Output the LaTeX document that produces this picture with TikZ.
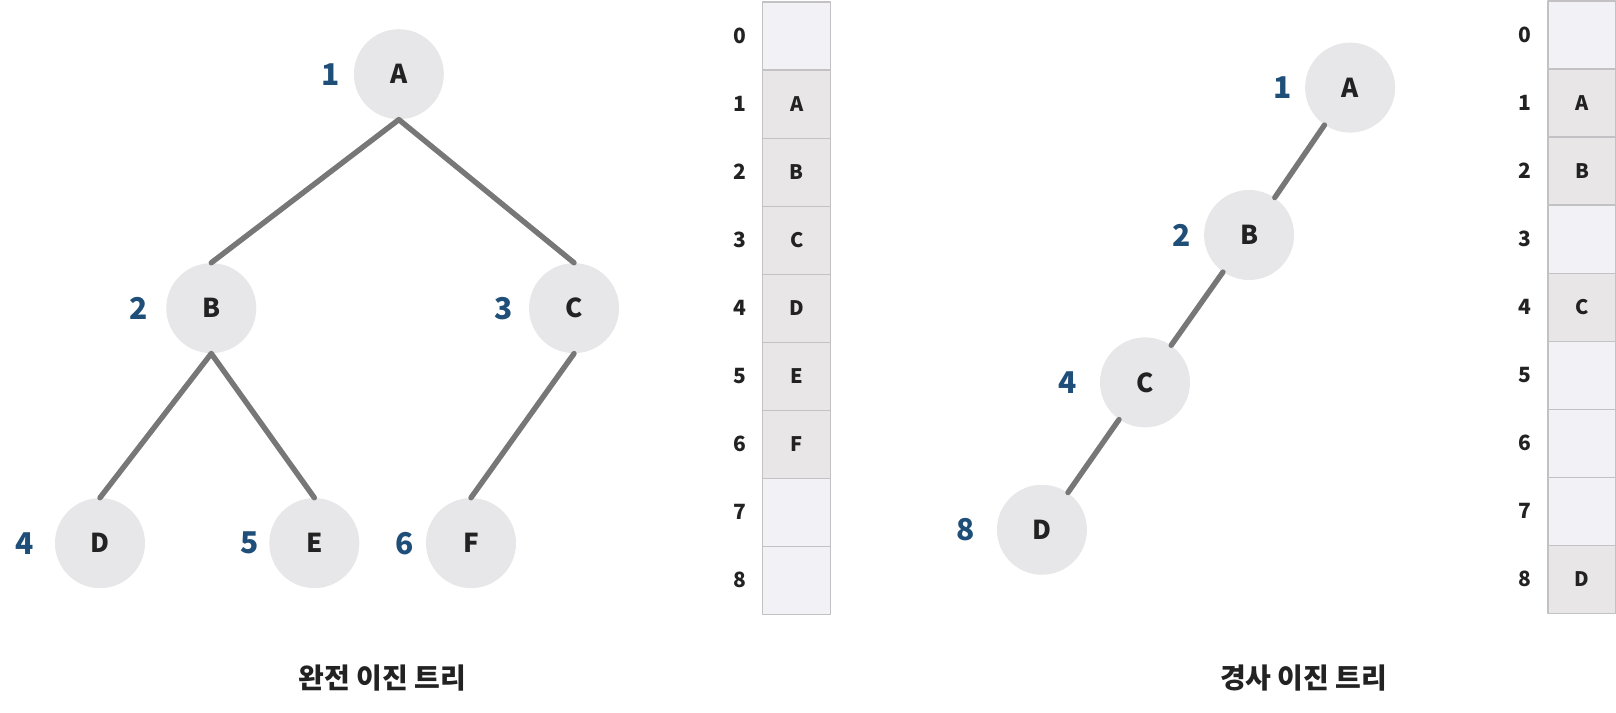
\documentclass[tikz,border=0pt]{standalone}
\usepackage{fontspec}
\setmainfont{Noto Sans CJK KR}
\definecolor{vtx}{HTML}{E7E6E8}
\definecolor{edge}{HTML}{777777}
\definecolor{idx}{HTML}{1F4E79}
\definecolor{ink}{HTML}{222222}
\definecolor{cellE}{HTML}{F2F1F6}
\definecolor{cellF}{HTML}{E8E6E6}
\definecolor{cellline}{HTML}{C3C1C4}
\begin{document}
\begin{tikzpicture}[x=0.5153pt,y=-0.5153pt, line join=round, line cap=round,
    vertex/.style={circle, fill=vtx, minimum size=45pt, inner sep=0pt, text=ink, font=\bfseries\fontsize{13}{14}\selectfont},
    num/.style={text=idx, font=\bfseries\fontsize{15}{16}\selectfont},
    link/.style={draw=edge, line width=2.7pt},
    cell/.style={draw=cellline, line width=0.6pt, minimum width=34pt, minimum height=34pt, inner sep=0pt, text=ink, font=\bfseries\fontsize{10}{11}\selectfont},
    slotnum/.style={text=ink, font=\bfseries\fontsize{10.5}{11}\selectfont},
    treetitle/.style={text=ink, font=\bfseries\fontsize{14}{16}\selectfont}]
\useasboundingbox (0,0) rectangle (1568,691);
% complete binary tree
\node[vertex] (A) at (387,72) {A};
\node[vertex] (B) at (205,299) {B};
\node[vertex] (C) at (557,299) {C};
\node[vertex] (D) at (97,527) {D};
\node[vertex] (E) at (305,527) {E};
\node[vertex] (F) at (457,527) {F};
\node[num] (nA) at (321,72) {1};
\node[num] (nB) at (135,299) {2};
\node[num] (nC) at (489,299) {3};
\node[num] (nD) at (24,527) {4};
\node[num] (nE) at (242,527) {5};
\node[num] (nF) at (393,527) {6};
\draw[link] (A.south)--(B.north) (A.south)--(C.north);
\draw[link] (B.south)--(D.north) (B.south)--(E.north) (C.south)--(F.north);
% array of complete tree
\foreach \i/\t/\f in {0/{}/cellE,1/A/cellF,2/B/cellF,3/C/cellF,4/D/cellF,5/E/cellF,6/F/cellF,7/{}/cellE,8/{}/cellE}{
  \node[cell, fill=\f] (L\i) at (773,{35+66*\i}) {\t};
  \node[slotnum] (Li\i) at (718,{35+66*\i}) {\i};
}
\node[treetitle] (tL) at (371,658) {완전 이진 트리};
% skewed binary tree
\node[vertex] (sA) at (1310,85) {A};
\node[vertex] (sB) at (1212,228) {B};
\node[vertex] (sC) at (1111,371) {C};
\node[vertex] (sD) at (1011,514) {D};
\node[num] (nsA) at (1245,85) {1};
\node[num] (nsB) at (1147,228) {2};
\node[num] (nsC) at (1036,371) {4};
\node[num] (nsD) at (937,514) {8};
\draw[link] (sA)--(sB) (sB)--(sC) (sC)--(sD);
% array of skewed tree
\foreach \i/\t/\f in {0/{}/cellE,1/A/cellF,2/B/cellF,3/{}/cellE,4/C/cellF,5/{}/cellE,6/{}/cellE,7/{}/cellE,8/D/cellF}{
  \node[cell, fill=\f] (R\i) at (1535,{34+66*\i}) {\t};
  \node[slotnum] (Ri\i) at (1480,{34+66*\i}) {\i};
}
\node[treetitle] (tR) at (1265,658) {경사 이진 트리};
\end{tikzpicture}
\end{document}
